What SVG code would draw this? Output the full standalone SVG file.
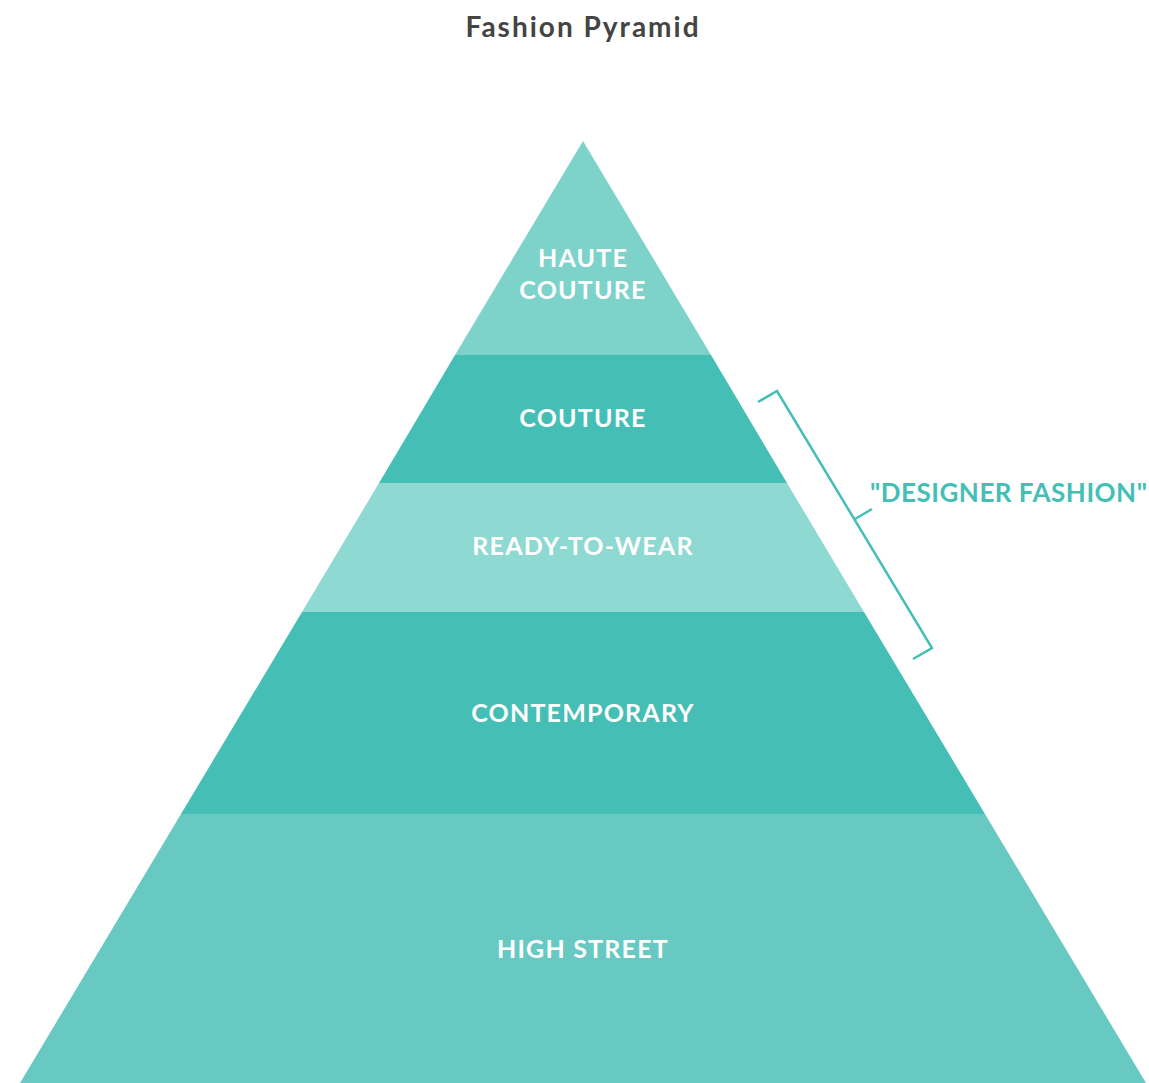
<svg xmlns="http://www.w3.org/2000/svg" width="1149" height="1083" viewBox="0 0 1149 1083">
  <style>
    .tier-label { font-family: Lato, "Liberation Sans", sans-serif; font-weight: bold; font-size: 25px; fill: #ffffff; text-anchor: middle; letter-spacing: 1.2px; }
    .title { font-family: Lato, "Liberation Sans", sans-serif; font-weight: bold; font-size: 28px; fill: #444444; text-anchor: middle; letter-spacing: 2px; }
    .note { font-family: Lato, "Liberation Sans", sans-serif; font-weight: bold; font-size: 26px; fill: #45beb5; letter-spacing: 0.5px; }
    .bracket { fill: none; stroke: #45beb5; stroke-width: 2.5; stroke-linejoin: miter; }
  </style>
  <rect width="1149" height="1083" fill="#ffffff"/>
  <text class="title" x="583" y="37">Fashion Pyramid</text>

  <!-- pyramid tiers, apex at (583,141), side slope 0.598 -->
  <g id="haute-couture">
    <polygon points="583,141 711,355 455,355" fill="#7dd3ca"/>
    <text class="tier-label" x="583" y="267">HAUTE</text>
    <text class="tier-label" x="583" y="299">COUTURE</text>
  </g>
  <g id="couture">
    <polygon points="455,355 711,355 787,483 379,483" fill="#45beb5"/>
    <text class="tier-label" x="583" y="427">COUTURE</text>
  </g>
  <g id="ready-to-wear">
    <polygon points="379,483 787,483 864,612 302,612" fill="#8fd9d3"/>
    <text class="tier-label" x="583" y="555">READY-TO-WEAR</text>
  </g>
  <g id="contemporary">
    <polygon points="302,612 864,612 985,814 181,814" fill="#45beb5"/>
    <text class="tier-label" x="583" y="722">CONTEMPORARY</text>
  </g>
  <g id="high-street">
    <polygon points="181,814 985,814 1146,1083 20,1083" fill="#68c9c2"/>
    <text class="tier-label" x="583" y="958">HIGH STREET</text>
  </g>

  <!-- bracket grouping the designer tiers -->
  <g id="connectors">
    <polyline class="bracket" points="758,402 777,391 932,648 913,659"/>
    <line class="bracket" x1="855" y1="519" x2="872" y2="509"/>
  </g>
  <g id="designer-fashion">
    <text class="note" x="870" y="502">"DESIGNER FASHION"</text>
  </g>
</svg>
